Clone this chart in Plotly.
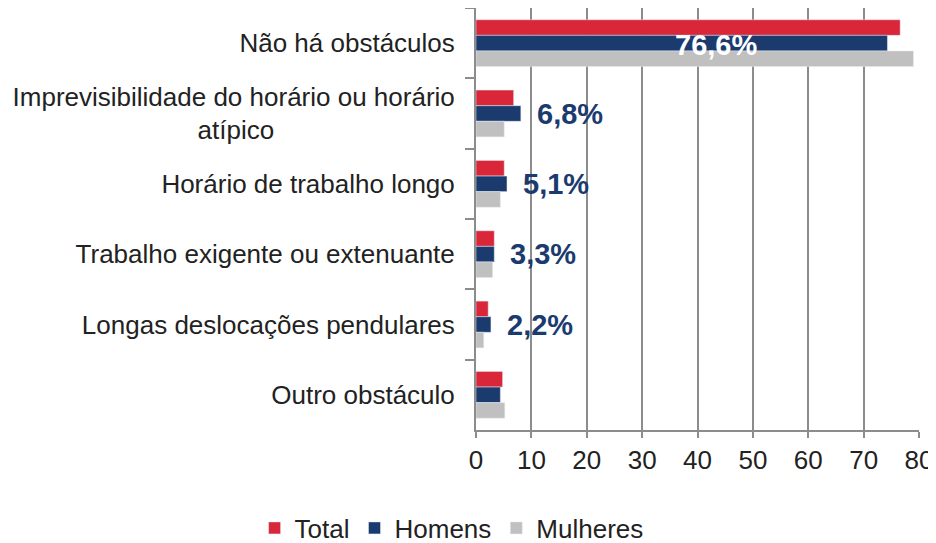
import plotly.graph_objects as go

categories = [
    "Não há obstáculos",
    "Imprevisibilidade do horário ou horário<br>atípico" + "\u00a0" * 25,
    "Horário de trabalho longo",
    "Trabalho exigente ou extenuante",
    "Longas deslocações pendulares",
    "Outro obstáculo",
]
total = [76.6, 6.8, 5.1, 3.3, 2.2, 4.8]
homens = [74.3, 8.1, 5.6, 3.3, 2.7, 4.4]
mulheres = [79.0, 5.1, 4.4, 3.0, 1.4, 5.2]
label_texts = ["76,6%", "6,8%", "5,1%", "3,3%", "2,2%"]
x_ticks = [0, 10, 20, 30, 40, 50, 60, 70, 80]

RED = "#D92638"
NAVY = "#1B3B6F"
GREY = "#C0C0C0"
AXIS = "#8C8C8C"
FONT = "Liberation Sans, Arial, sans-serif"

fig = go.Figure()
fig.add_trace(go.Bar(y=categories, x=total, name="Total", orientation="h",
                     marker=dict(color=RED)))
fig.add_trace(go.Bar(y=categories, x=homens, name="Homens", orientation="h",
                     marker=dict(color=NAVY)))
fig.add_trace(go.Bar(y=categories, x=mulheres, name="Mulheres", orientation="h",
                     marker=dict(color=GREY)))

for i, t in enumerate(label_texts):
    if i == 0:
        fig.add_annotation(x=homens[i], y=categories[i], text="<b>%s</b>" % t,
                           xanchor="right", yanchor="middle", xshift=-128, yshift=-2,
                           showarrow=False,
                           font=dict(family=FONT, size=29, color="white"))
    else:
        fig.add_annotation(x=homens[i], y=categories[i], text="<b>%s</b>" % t,
                           xanchor="left", yanchor="middle", xshift=14,
                           showarrow=False,
                           font=dict(family=FONT, size=29, color=NAVY))

fig.update_layout(
    width=928, height=535,
    margin=dict(l=468, r=17, t=0, b=113, autoexpand=False),
    paper_bgcolor="white", plot_bgcolor="white",
    barmode="group", bargap=0.335, bargroupgap=0,
    font=dict(family=FONT, size=26, color="#222222"),
    showlegend=True,
    legend=dict(orientation="h", xref="container", yref="container",
                x=0.478, y=0.028, xanchor="center", yanchor="middle",
                font=dict(family=FONT, size=26, color="#222222"),
                itemwidth=30, traceorder="normal"),
    xaxis=dict(range=[0, 80], tickvals=x_ticks, showgrid=True, gridcolor=AXIS,
               gridwidth=2, showline=True, linecolor=AXIS, linewidth=2,
               ticks="outside", ticklen=6, tickwidth=2, tickcolor=AXIS,
               zeroline=False, fixedrange=True),
    yaxis=dict(autorange="reversed", showgrid=False, showline=True,
               linecolor=AXIS, linewidth=2, ticks="outside", ticklen=9,
               tickwidth=2, tickcolor=AXIS, tickson="boundaries",
               ticklabelstandoff=14, zeroline=False),
)

fig.write_html("out.html")
